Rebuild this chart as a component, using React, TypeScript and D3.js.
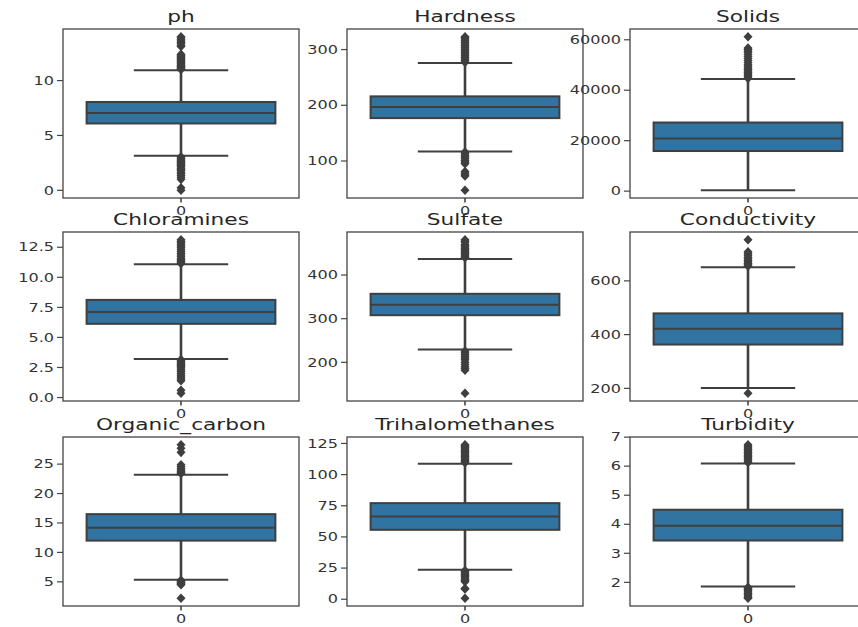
import React from "react";
import * as d3 from "d3";

const names = ["ph", "Hardness", "Solids", "Chloramines", "Sulfate", "Conductivity", "Organic_carbon", "Trihalomethanes", "Turbidity"];
const q1 = [6.09, 177, 15900, 6.13, 308, 363, 12.0, 55.7, 3.44];
const medians = [7.04, 197, 20900, 7.12, 332, 422, 14.2, 66.4, 3.95];
const q3 = [8.05, 216, 27200, 8.12, 357, 479, 16.5, 77.1, 4.5];
const whiskerLow = [3.15, 117, 321, 3.2, 229.5, 201, 5.35, 23.6, 1.86];
const whiskerHigh = [10.95, 276, 44500, 11.09, 437, 651, 23.2, 108.7, 6.09];

const outliers: number[][] = [
  [11.02, 11.1, 11.18, 11.25, 11.32, 11.4, 11.5, 11.6, 11.7, 11.8, 11.9, 12.0, 12.1, 12.2, 12.3, 12.4, 13.1, 13.2, 13.35, 13.5, 13.6, 13.75, 13.9, 14.0,
    3.05, 2.95, 2.85, 2.75, 2.65, 2.55, 2.45, 2.35, 2.25, 2.15, 2.0, 1.9, 1.8, 1.65, 1.5, 1.35, 1.2, 1.0, 0.23, 0.0],
  [277, 280, 283, 286, 289, 292, 295, 298, 301, 304, 307, 310, 313, 316, 319, 321, 323.1,
    116, 113, 110, 107, 104, 101, 98, 95, 81, 78, 75, 73, 47.4],
  [44700, 45200, 45800, 46400, 47000, 47600, 48200, 48800, 49500, 50200, 51000, 51800, 52600, 53400, 54200, 55000, 55600, 56200, 56700, 61227],
  [11.15, 11.25, 11.35, 11.45, 11.55, 11.7, 11.85, 12.0, 12.15, 12.3, 12.45, 12.6, 12.75, 12.9, 13.0, 13.13,
    3.15, 3.05, 2.95, 2.85, 2.75, 2.65, 2.55, 2.45, 2.3, 2.15, 2.0, 1.85, 1.7, 1.55, 1.4, 0.6, 0.35],
  [440, 443, 446, 449, 452, 455, 458, 461, 464, 467, 470, 475, 478, 481,
    226, 222, 218, 214, 210, 206, 200, 195, 190, 186, 182, 129],
  [655, 660, 665, 670, 676, 682, 688, 695, 702, 708, 753.3, 181.5],
  [23.4, 23.6, 23.8, 24.0, 24.3, 24.6, 24.9, 27.0, 27.7, 28.3, 5.25, 5.1, 4.95, 4.8, 4.65, 4.5, 2.2],
  [109.5, 110.5, 111.5, 112.5, 113.5, 114.5, 115.5, 116.5, 117.5, 118.5, 119.5, 120.5, 121.5, 122.5, 123.5, 124.0,
    23.0, 22.0, 21.0, 20.0, 19.0, 18.0, 17.0, 16.0, 15.0, 14.0, 8.6, 8.2, 0.74],
  [6.13, 6.18, 6.23, 6.28, 6.33, 6.38, 6.43, 6.48, 6.53, 6.58, 6.63, 6.69, 6.74,
    1.83, 1.79, 1.75, 1.71, 1.67, 1.62, 1.57, 1.52, 1.48, 1.45],
];

const tickLabels: string[][] = [
  ["0", "5", "10"],
  ["100", "200", "300"],
  ["0", "20000", "40000", "60000"],
  ["0.0", "2.5", "5.0", "7.5", "10.0", "12.5"],
  ["200", "300", "400"],
  ["200", "400", "600"],
  ["5", "10", "15", "20", "25"],
  ["0", "25", "50", "75", "100", "125"],
  ["2", "3", "4", "5", "6", "7"],
];
const xTickLabel = "0";

const colX = [63, 347, 630];
const rowY = [29, 232, 437];
const PW = 236;
const PH = 169;
const SX = 1.4;
const BOX = "#3274a1";
const LINE = "#3f3f3f";
const FONT = "DejaVu Sans, sans-serif";

function Panel({ i }: { i: number }) {
  const x0 = colX[i % 3];
  const y0 = rowY[Math.floor(i / 3)];
  const all = [whiskerLow[i], whiskerHigh[i], ...outliers[i]];
  const lo = d3.min(all)!;
  const hi = d3.max(all)!;
  const pad = (hi - lo) * 0.05;
  const y = d3.scaleLinear().domain([lo - pad, hi + pad]).range([y0 + PH, y0]);
  const x = d3.scaleLinear().domain([-0.5, 0.5]).range([x0, x0 + PW]);
  const cx = x(0);
  const bx0 = x(-0.4), bx1 = x(0.4);
  const cx0 = x(-0.2), cx1 = x(0.2);
  const diamond = "M0,-4.8L4.5,0L0,4.8L-4.5,0Z";
  return (
    <g>
      <text transform={`translate(${cx},${y0 - 7}) scale(${SX},1)`} textAnchor="middle" fontSize={15.5} fill="#262626" fontFamily={FONT}>{names[i]}</text>
      <line x1={cx} x2={cx} y1={y(whiskerLow[i])} y2={y(q1[i])} stroke={LINE} strokeWidth={2.6} />
      <line x1={cx} x2={cx} y1={y(q3[i])} y2={y(whiskerHigh[i])} stroke={LINE} strokeWidth={2.6} />
      <line x1={cx0} x2={cx1} y1={y(whiskerLow[i])} y2={y(whiskerLow[i])} stroke={LINE} strokeWidth={2} />
      <line x1={cx0} x2={cx1} y1={y(whiskerHigh[i])} y2={y(whiskerHigh[i])} stroke={LINE} strokeWidth={2} />
      <rect x={bx0} y={y(q3[i])} width={bx1 - bx0} height={y(q1[i]) - y(q3[i])} fill={BOX} stroke={LINE} strokeWidth={2} />
      <line x1={bx0} x2={bx1} y1={y(medians[i])} y2={y(medians[i])} stroke={LINE} strokeWidth={2} />
      {outliers[i].map((v, k) => (
        <path key={k} d={diamond} transform={`translate(${cx},${y(v)})`} fill={LINE} />
      ))}
      <rect x={x0} y={y0} width={PW} height={PH} fill="none" stroke="#444" strokeWidth={1.3} />
      {tickLabels[i].map((t) => {
        const ty = y(+t);
        return (
          <g key={t}>
            <line x1={x0 - 6} x2={x0} y1={ty} y2={ty} stroke="#444" strokeWidth={1.2} />
            <text transform={`translate(${x0 - 9},${ty + 4.2}) scale(${SX},1)`} textAnchor="end" fontSize={11.5} fill="#333" fontFamily={FONT}>{t}</text>
          </g>
        );
      })}
      <line x1={cx} x2={cx} y1={y0 + PH} y2={y0 + PH + 4.5} stroke="#444" strokeWidth={1.6} />
      <text transform={`translate(${cx},${y0 + PH + 17}) scale(${SX},1)`} textAnchor="middle" fontSize={11.5} fill="#333" fontFamily={FONT}>{xTickLabel}</text>
    </g>
  );
}

export default function App() {
  return (
    <svg width={858} height={627} style={{ position: "absolute", left: 0, top: 0, background: "#fff" }}>
      <rect x={0} y={0} width={858} height={627} fill="#fff" />
      {names.map((_, i) => (
        <Panel key={i} i={i} />
      ))}
    </svg>
  );
}
